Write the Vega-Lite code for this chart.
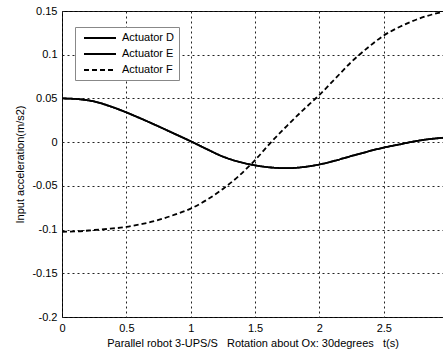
{
  "$schema": "https://vega.github.io/schema/vega-lite/v6.json",
  "width": 381,
  "height": 306,
  "autosize": "none",
  "padding": {"left": 62, "top": 11, "right": 0, "bottom": 36},
  "background": "white",
  "config": {
    "font": "Liberation Sans",
    "view": {"stroke": "black", "strokeWidth": 1},
    "axis": {
      "domain": false,
      "ticks": false,
      "tickSize": 0,
      "labelFont": "Liberation Sans",
      "labelFontSize": 11,
      "labelColor": "black",
      "labelPadding": 5,
      "labelFlush": false,
      "labelOverlap": false,
      "titleFont": "Liberation Sans",
      "titleFontSize": 11,
      "titleFontWeight": "normal",
      "titleColor": "black",
      "grid": true,
      "gridColor": "#222",
      "gridDash": [2, 3],
      "gridWidth": 1
    }
  },
  "data": {
    "values": [
      {"t": 0, "a": 0.05, "series": "Actuator D"},
      {"t": 0.125, "a": 0.0492, "series": "Actuator D"},
      {"t": 0.25, "a": 0.0465, "series": "Actuator D"},
      {"t": 0.375, "a": 0.041, "series": "Actuator D"},
      {"t": 0.5, "a": 0.034, "series": "Actuator D"},
      {"t": 0.625, "a": 0.0262, "series": "Actuator D"},
      {"t": 0.75, "a": 0.018, "series": "Actuator D"},
      {"t": 0.875, "a": 0.0095, "series": "Actuator D"},
      {"t": 1.0, "a": 0.001, "series": "Actuator D"},
      {"t": 1.125, "a": -0.008, "series": "Actuator D"},
      {"t": 1.25, "a": -0.0165, "series": "Actuator D"},
      {"t": 1.375, "a": -0.0225, "series": "Actuator D"},
      {"t": 1.5, "a": -0.0265, "series": "Actuator D"},
      {"t": 1.625, "a": -0.029, "series": "Actuator D"},
      {"t": 1.75, "a": -0.0298, "series": "Actuator D"},
      {"t": 1.875, "a": -0.0285, "series": "Actuator D"},
      {"t": 2.0, "a": -0.0255, "series": "Actuator D"},
      {"t": 2.125, "a": -0.021, "series": "Actuator D"},
      {"t": 2.25, "a": -0.0158, "series": "Actuator D"},
      {"t": 2.375, "a": -0.0108, "series": "Actuator D"},
      {"t": 2.5, "a": -0.0062, "series": "Actuator D"},
      {"t": 2.625, "a": -0.0025, "series": "Actuator D"},
      {"t": 2.75, "a": 0.0012, "series": "Actuator D"},
      {"t": 2.875, "a": 0.0038, "series": "Actuator D"},
      {"t": 2.96, "a": 0.005, "series": "Actuator D"},
      {"t": 0, "a": 0.05, "series": "Actuator E"},
      {"t": 0.125, "a": 0.0492, "series": "Actuator E"},
      {"t": 0.25, "a": 0.0465, "series": "Actuator E"},
      {"t": 0.375, "a": 0.041, "series": "Actuator E"},
      {"t": 0.5, "a": 0.034, "series": "Actuator E"},
      {"t": 0.625, "a": 0.0262, "series": "Actuator E"},
      {"t": 0.75, "a": 0.018, "series": "Actuator E"},
      {"t": 0.875, "a": 0.0095, "series": "Actuator E"},
      {"t": 1.0, "a": 0.001, "series": "Actuator E"},
      {"t": 1.125, "a": -0.008, "series": "Actuator E"},
      {"t": 1.25, "a": -0.0165, "series": "Actuator E"},
      {"t": 1.375, "a": -0.0225, "series": "Actuator E"},
      {"t": 1.5, "a": -0.0265, "series": "Actuator E"},
      {"t": 1.625, "a": -0.029, "series": "Actuator E"},
      {"t": 1.75, "a": -0.0298, "series": "Actuator E"},
      {"t": 1.875, "a": -0.0285, "series": "Actuator E"},
      {"t": 2.0, "a": -0.0255, "series": "Actuator E"},
      {"t": 2.125, "a": -0.021, "series": "Actuator E"},
      {"t": 2.25, "a": -0.0158, "series": "Actuator E"},
      {"t": 2.375, "a": -0.0108, "series": "Actuator E"},
      {"t": 2.5, "a": -0.0062, "series": "Actuator E"},
      {"t": 2.625, "a": -0.0025, "series": "Actuator E"},
      {"t": 2.75, "a": 0.0012, "series": "Actuator E"},
      {"t": 2.875, "a": 0.0038, "series": "Actuator E"},
      {"t": 2.96, "a": 0.005, "series": "Actuator E"},
      {"t": 0, "a": -0.1025, "series": "Actuator F"},
      {"t": 0.125, "a": -0.102, "series": "Actuator F"},
      {"t": 0.25, "a": -0.1005, "series": "Actuator F"},
      {"t": 0.375, "a": -0.099, "series": "Actuator F"},
      {"t": 0.5, "a": -0.097, "series": "Actuator F"},
      {"t": 0.625, "a": -0.0935, "series": "Actuator F"},
      {"t": 0.75, "a": -0.089, "series": "Actuator F"},
      {"t": 0.875, "a": -0.083, "series": "Actuator F"},
      {"t": 1.0, "a": -0.076, "series": "Actuator F"},
      {"t": 1.125, "a": -0.066, "series": "Actuator F"},
      {"t": 1.25, "a": -0.0535, "series": "Actuator F"},
      {"t": 1.375, "a": -0.0385, "series": "Actuator F"},
      {"t": 1.5, "a": -0.0205, "series": "Actuator F"},
      {"t": 1.625, "a": 0.0, "series": "Actuator F"},
      {"t": 1.75, "a": 0.019, "series": "Actuator F"},
      {"t": 1.875, "a": 0.037, "series": "Actuator F"},
      {"t": 2.0, "a": 0.054, "series": "Actuator F"},
      {"t": 2.125, "a": 0.073, "series": "Actuator F"},
      {"t": 2.25, "a": 0.092, "series": "Actuator F"},
      {"t": 2.375, "a": 0.108, "series": "Actuator F"},
      {"t": 2.5, "a": 0.122, "series": "Actuator F"},
      {"t": 2.625, "a": 0.132, "series": "Actuator F"},
      {"t": 2.75, "a": 0.14, "series": "Actuator F"},
      {"t": 2.875, "a": 0.146, "series": "Actuator F"},
      {"t": 2.96, "a": 0.149, "series": "Actuator F"}
    ]
  },
  "mark": {"type": "line", "color": "black", "strokeWidth": 1.8, "clip": true, "interpolate": "monotone"},
  "encoding": {
    "x": {
      "field": "t",
      "type": "quantitative",
      "scale": {"domain": [0, 2.96], "nice": false, "zero": false},
      "axis": {
        "values": [0, 0.5, 1, 1.5, 2, 2.5],
        "labelExpr": "datum.value + ''",
        "title": "Parallel robot 3-UPS/S\u00a0\u00a0 Rotation about Ox: 30degrees\u00a0\u00a0 t(s)",
        "titlePadding": 4
      }
    },
    "y": {
      "field": "a",
      "type": "quantitative",
      "scale": {"domain": [-0.2, 0.15], "nice": false, "zero": false},
      "axis": {
        "values": [-0.2, -0.15, -0.1, -0.05, 0, 0.05, 0.1, 0.15],
        "labelExpr": "datum.value + ''",
        "title": "Input acceleration(m/s2)",
        "titlePadding": 6
      }
    },
    "strokeDash": {
      "field": "series",
      "type": "nominal",
      "scale": {"domain": ["Actuator D", "Actuator E", "Actuator F"], "range": [[1, 0], [1, 0], [5, 3]]},
      "legend": {
        "title": null,
        "orient": "none",
        "legendX": 13,
        "legendY": 16,
        "padding": 5,
        "rowPadding": 5,
        "fillColor": "white",
        "strokeColor": "#888",
        "cornerRadius": 0,
        "symbolType": "M-3.2,0H3.2",
        "symbolSize": 100,
        "symbolOffset": 14,
        "symbolStrokeWidth": 1.8,
        "symbolStrokeColor": "black",
        "labelFont": "Liberation Sans",
        "labelFontSize": 11,
        "labelColor": "black",
        "labelOffset": 16,
        "labelExpr": "datum.label + '\u2003'"
      }
    }
  }
}
